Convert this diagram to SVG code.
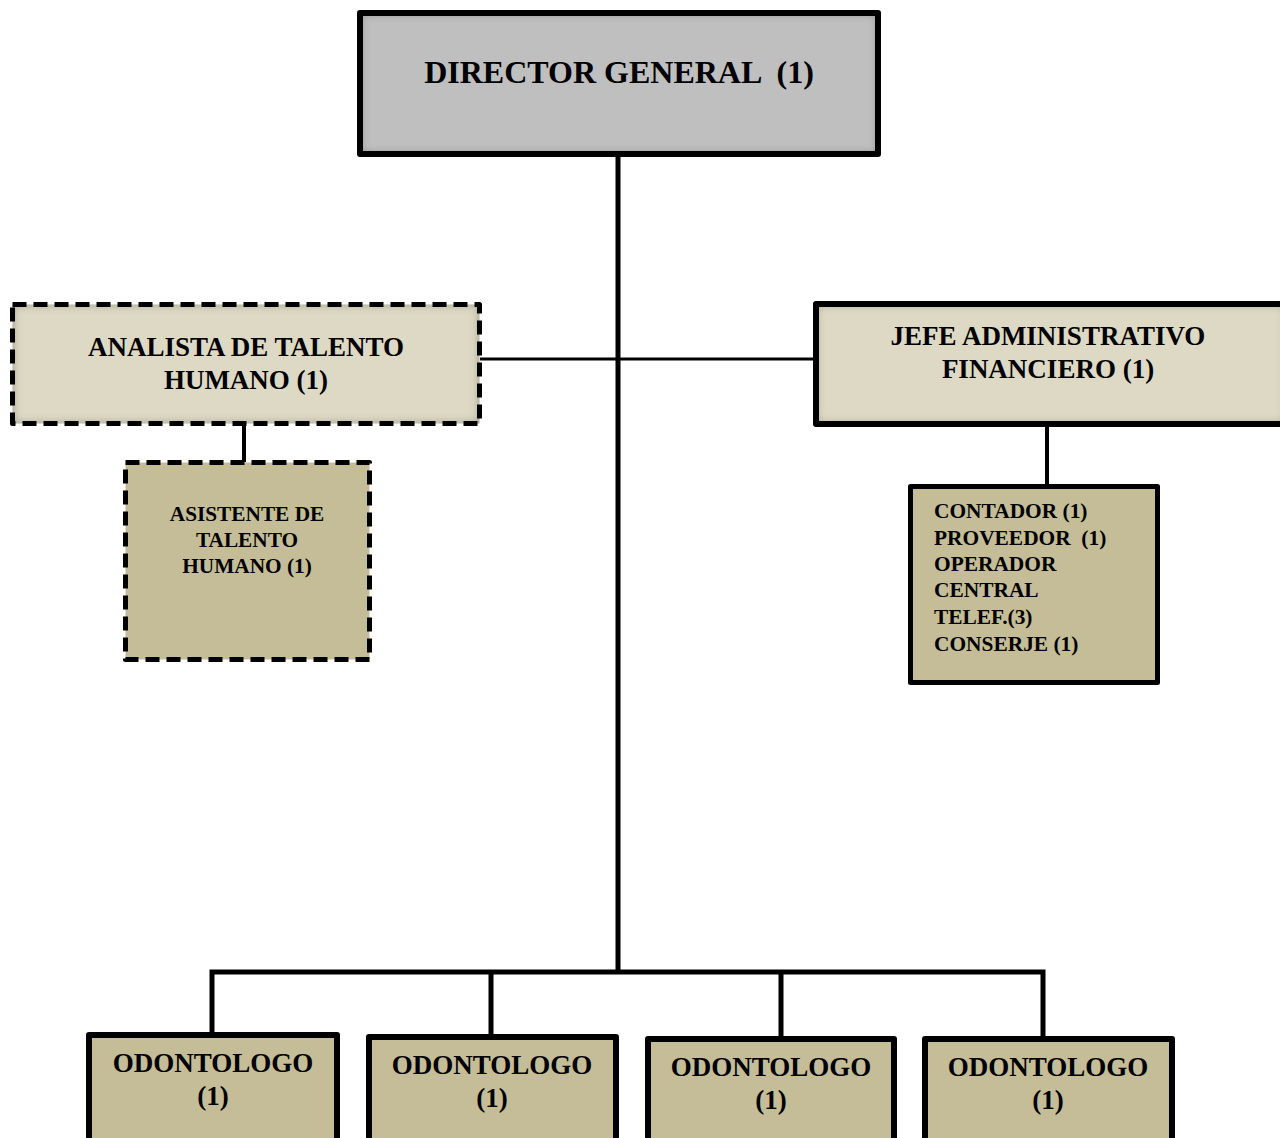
<svg xmlns="http://www.w3.org/2000/svg" width="1280" height="1138" viewBox="0 0 1280 1138">
  <defs>
    <!-- soft inner shadow used on the upper boxes -->
    <filter id="inset" x="-5%" y="-5%" width="110%" height="110%">
      <feFlood flood-color="#000" flood-opacity="0.7"/>
      <feComposite in2="SourceAlpha" operator="out"/>
      <feGaussianBlur stdDeviation="5"/>
      <feComposite in2="SourceAlpha" operator="in" result="shade"/>
      <feMerge>
        <feMergeNode in="SourceGraphic"/>
        <feMergeNode in="shade"/>
      </feMerge>
    </filter>
    <style>
      text { font-family: "Liberation Serif", "Times New Roman", serif; font-weight: bold; fill: #000; }
      .box { stroke: #000; stroke-linejoin: round; }
      .gray { fill: #bfbfbf; }
      .light { fill: #ddd9c4; }
      .tan { fill: #c4bd97; }
      .dash { stroke-dasharray: 14 7; }
      .link { stroke: #000; fill: none; }
    </style>
  </defs>

  <rect width="1280" height="1138" fill="#fff"/>

  <!-- connectors -->
  <g id="connectors">
    <line class="link" x1="618" y1="155" x2="618" y2="974" stroke-width="5"/>
    <line class="link" x1="480" y1="359" x2="816" y2="359" stroke-width="3"/>
    <line class="link" x1="244" y1="424" x2="244" y2="462" stroke-width="4"/>
    <line class="link" x1="1047" y1="425" x2="1047" y2="487" stroke-width="4"/>
    <polyline class="link" points="212,1035 212,972 1043,972 1043,1038" stroke-width="5" stroke-linejoin="miter"/>
    <line class="link" x1="491" y1="972" x2="491" y2="1037" stroke-width="5"/>
    <line class="link" x1="781" y1="972" x2="781" y2="1039" stroke-width="5"/>
  </g>

  <g id="director">
    <rect class="gray" x="360" y="13" width="518" height="141" filter="url(#inset)"/>
    <rect class="box" x="360" y="13" width="518" height="141" fill="none" stroke-width="6"/>
    <text x="619" y="83" font-size="32" text-anchor="middle" xml:space="preserve">DIRECTOR GENERAL  (1)</text>
  </g>

  <g id="analista">
    <rect class="light" x="12.5" y="304.5" width="467" height="119" filter="url(#inset)"/>
    <rect class="box dash" x="12.5" y="304.5" width="467" height="119" fill="none" stroke-width="5"/>
    <text x="246" y="356" font-size="27" text-anchor="middle">ANALISTA DE TALENTO</text>
    <text x="246" y="389" font-size="27" text-anchor="middle">HUMANO (1)</text>
  </g>

  <g id="jefe">
    <rect class="light" x="816" y="304" width="470" height="120" filter="url(#inset)"/>
    <rect class="box" x="816" y="304" width="470" height="120" fill="none" stroke-width="6"/>
    <text x="1048" y="345" font-size="27" text-anchor="middle">JEFE ADMINISTRATIVO</text>
    <text x="1048" y="378" font-size="27" text-anchor="middle">FINANCIERO (1)</text>
  </g>

  <g id="asistente">
    <rect class="box tan dash" x="125.5" y="462.5" width="244" height="197" stroke-width="5"/>
    <text x="247" y="521" font-size="21.3" text-anchor="middle">ASISTENTE DE</text>
    <text x="247" y="547" font-size="21.3" text-anchor="middle">TALENTO</text>
    <text x="247" y="573" font-size="21.3" text-anchor="middle">HUMANO (1)</text>
  </g>

  <g id="personal-administrativo">
    <rect class="box tan" x="910.5" y="486.5" width="247" height="196" stroke-width="5"/>
    <text font-size="21.4" xml:space="preserve">
      <tspan x="934" y="518">CONTADOR (1)</tspan>
      <tspan x="934" y="545">PROVEEDOR  (1)</tspan>
      <tspan x="934" y="571">OPERADOR</tspan>
      <tspan x="934" y="597">CENTRAL</tspan>
      <tspan x="934" y="624">TELEF.(3)</tspan>
      <tspan x="934" y="651">CONSERJE (1)</tspan>
    </text>
  </g>

  <g id="odontologo-1">
    <rect class="box tan" x="89" y="1035" width="248" height="120" stroke-width="6"/>
    <text x="213" y="1072" font-size="27" text-anchor="middle">ODONTOLOGO</text>
    <text x="213" y="1105" font-size="27" text-anchor="middle">(1)</text>
  </g>

  <g id="odontologo-2">
    <rect class="box tan" x="369" y="1037" width="247" height="120" stroke-width="6"/>
    <text x="492" y="1074" font-size="27" text-anchor="middle">ODONTOLOGO</text>
    <text x="492" y="1107" font-size="27" text-anchor="middle">(1)</text>
  </g>

  <g id="odontologo-3">
    <rect class="box tan" x="648" y="1039" width="246" height="120" stroke-width="6"/>
    <text x="771" y="1076" font-size="27" text-anchor="middle">ODONTOLOGO</text>
    <text x="771" y="1109" font-size="27" text-anchor="middle">(1)</text>
  </g>

  <g id="odontologo-4">
    <rect class="box tan" x="925" y="1039" width="247" height="120" stroke-width="6"/>
    <text x="1048" y="1076" font-size="27" text-anchor="middle">ODONTOLOGO</text>
    <text x="1048" y="1109" font-size="27" text-anchor="middle">(1)</text>
  </g>
</svg>
